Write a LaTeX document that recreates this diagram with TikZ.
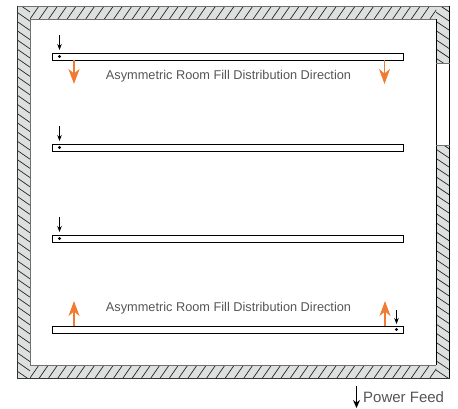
\documentclass[tikz,border=0pt]{standalone}
\usepackage{fontspec}
\setmainfont{Liberation Sans}
\definecolor{wallfill}{HTML}{DDE0DF}
\definecolor{wallline}{HTML}{707070}
\definecolor{flow}{HTML}{F07C33}
\definecolor{labelc}{HTML}{555555}
\usetikzlibrary{arrows.meta}
\tikzset{
 hatchline/.style={draw=black!85,line width=.7pt},
 barbox/.style={draw=black,line width=.9pt,fill=white,minimum width=351pt,minimum height=7pt,inner sep=0pt,outer sep=0pt},
 feeddot/.style={circle,fill=black,inner sep=0pt,minimum size=3.2pt},
 feedarrow/.style={-{Stealth[length=6pt,width=4.5pt]},line width=.7pt,black},
 flowarrow/.style={-{Stealth[length=15pt,width=11pt,inset=4.5pt]},line width=1.3pt,flow},
 caption/.style={text=labelc,font=\fontsize{12.75}{15}\selectfont,inner sep=0pt},
 powerlabel/.style={text=labelc,font=\fontsize{15}{18}\selectfont,inner sep=0pt,anchor=west}
}
\begin{document}
\begin{tikzpicture}[x=1pt,y=-1pt]
\useasboundingbox (0,0) rectangle (458,408);
% walls
\fill[wallfill] (17,6) rectangle (449.5,19);
\fill[wallfill] (17,365) rectangle (449.5,378);
\fill[wallfill] (17,6) rectangle (30,378);
\fill[wallfill] (436,6) rectangle (449.5,63);
\fill[wallfill] (436,145) rectangle (449.5,378);
% hatching top and bottom
\begin{scope}
\clip (30,6) rectangle (436,19);
\foreach \x in {30,39.3,...,450} \draw[hatchline] (\x,19) -- ++(9,-13);
\end{scope}
\begin{scope}
\clip (30,365) rectangle (436,378);
\foreach \x in {30,39.3,...,450} \draw[hatchline] (\x,378) -- ++(9,-13);
\end{scope}
% hatching left and right
\begin{scope}
\clip (17,6) rectangle (30,378);
\foreach \y in {3,12.2,...,378} \draw[hatchline] (17,\y) -- ++(13,9);
\end{scope}
\begin{scope}
\clip (436,6) rectangle (449.5,63);
\foreach \y in {3,12.2,...,63} \draw[hatchline] (436,\y) -- ++(13.5,9);
\end{scope}
\begin{scope}
\clip (436,145) rectangle (449.5,378);
\foreach \y in {140,149.2,...,378} \draw[hatchline] (436,\y) -- ++(13.5,9);
\end{scope}
% outlines
\draw[wallline,line width=1pt] (17,6) -- (449.5,6);
\draw[wallline,line width=1pt] (30,19) -- (436,19);
\draw[wallline,line width=1pt] (30,365) -- (436,365);
\draw[black!80,line width=1pt] (17,378) -- (449.5,378);
\draw[black!80,line width=1pt] (17,6) -- (17,378);
\draw[wallline,line width=1pt] (30,19) -- (30,365);
\draw[black,line width=1pt] (436,19) -- (436,365);
\draw[black,line width=1pt] (449.5,6) -- (449.5,378);
\draw[wallline,line width=1pt] (436,63) -- (449.5,63);
\draw[wallline,line width=1pt] (436,145) -- (449.5,145);
% bars
\node[barbox,anchor=north west] (bara) at (52,53) {};
\node[barbox,anchor=north west] (barb) at (52,144) {};
\node[barbox,anchor=north west] (barc) at (52,235) {};
\node[barbox,anchor=north west] (bard) at (52,326) {};
% feed dots and arrows
\node[feeddot] (dota) at (59.5,56.5) {};
\node[feeddot] (dotb) at (59.5,147.5) {};
\node[feeddot] (dotc) at (59.5,238.5) {};
\node[feeddot] (dotd) at (396.5,329.5) {};
\coordinate (fa) at (59.5,35);
\coordinate (fb) at (59.5,126);
\coordinate (fc) at (59.5,217);
\coordinate (fd) at (396.5,310);
\coordinate (fae) at (59.5,50);
\coordinate (fbe) at (59.5,141);
\coordinate (fce) at (59.5,232);
\coordinate (fde) at (396.5,324);
\draw[feedarrow] (fa) -- (fae);
\draw[feedarrow] (fb) -- (fbe);
\draw[feedarrow] (fc) -- (fce);
\draw[feedarrow] (fd) -- (fde);
% flow arrows
\coordinate (d1) at (74,84);
\coordinate (d2) at (384.5,84);
\coordinate (u1) at (74,301);
\coordinate (u2) at (385,301);
\draw[flowarrow] (bara.south west -| d1) -- (d1);
\draw[flowarrow] (bara.south west -| d2) -- (d2);
\draw[flowarrow] (bard.north west -| u1) -- (u1);
\draw[flowarrow] (bard.north west -| u2) -- (u2);
% labels
\node[caption] (capa) at (228.5,76.5) {Asymmetric Room Fill Distribution Direction};
\node[caption] (capb) at (228.5,308.5) {Asymmetric Room Fill Distribution Direction};
\coordinate (pf) at (356.5,386);
\coordinate (pfe) at (356.5,408);
\draw[-{Stealth[length=8pt,width=7pt]},line width=.9pt,black] (pf) -- (pfe);
\node[powerlabel] (power) at (363,397.5) {Power Feed};
\end{tikzpicture}
\end{document}
